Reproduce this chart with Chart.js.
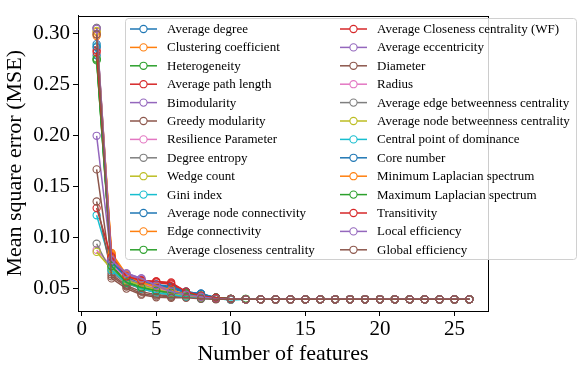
<!DOCTYPE html>
<html>
<head>
<meta charset="utf-8">
<script src="https://cdn.jsdelivr.net/npm/chart.js@4.4.1/dist/chart.umd.min.js"></script>
<style>
html,body{margin:0;padding:0;background:#fff;}
#wrap{width:582px;height:371px;position:relative;}
</style>
</head>
<body>
<div id="wrap"><canvas id="c" width="582" height="371"></canvas></div>
<script>
const features = [1,2,3,4,5,6,7,8,9,10,11,12,13,14,15,16,17,18,19,20,21,22,23,24,25,26];
const xTicks = [0,5,10,15,20,25];
const yTicks = [0.05,0.10,0.15,0.20,0.25,0.30];

const seriesNames = ["Average degree","Clustering coefficient","Heterogeneity","Average path length","Bimodularity","Greedy modularity","Resilience Parameter","Degree entropy","Wedge count","Gini index","Average node connectivity","Edge connectivity","Average closeness centrality","Average Closeness centrality (WF)","Average eccentricity","Diameter","Radius","Average edge betweenness centrality","Average node betweenness centrality","Central point of dominance","Core number","Minimum Laplacian spectrum","Maximum Laplacian spectrum","Transitivity","Local efficiency","Global efficiency"];

const averageDegree = [0.290,0.075,0.060,0.055,0.052,0.050,0.046,0.045,0.041,0.0395,0.0395,0.0395,0.0395,0.0395,0.0395,0.0395,0.0395,0.0395,0.0395,0.0395,0.0395,0.0395,0.0395,0.0395,0.0395,0.0395];
const clusteringCoefficient = [0.300,0.084,0.062,0.056,0.050,0.047,0.043,0.041,0.040,0.0395,0.0395,0.0395,0.0395,0.0395,0.0395,0.0395,0.0395,0.0395,0.0395,0.0395,0.0395,0.0395,0.0395,0.0395,0.0395,0.0395];
const heterogeneity = [0.274,0.070,0.056,0.050,0.047,0.045,0.044,0.042,0.041,0.040,0.0395,0.0395,0.0395,0.0395,0.0395,0.0395,0.0395,0.0395,0.0395,0.0395,0.0395,0.0395,0.0395,0.0395,0.0395,0.0395];
const averagePathLength = [0.284,0.082,0.063,0.058,0.056,0.054,0.046,0.042,0.041,0.040,0.0395,0.0395,0.0395,0.0395,0.0395,0.0395,0.0395,0.0395,0.0395,0.0395,0.0395,0.0395,0.0395,0.0395,0.0395,0.0395];
const bimodularity = [0.200,0.078,0.065,0.060,0.052,0.046,0.043,0.041,0.040,0.0395,0.0395,0.0395,0.0395,0.0395,0.0395,0.0395,0.0395,0.0395,0.0395,0.0395,0.0395,0.0395,0.0395,0.0395,0.0395,0.0395];
const greedyModularity = [0.167,0.062,0.052,0.045,0.043,0.042,0.042,0.041,0.040,0.0395,0.0395,0.0395,0.0395,0.0395,0.0395,0.0395,0.0395,0.0395,0.0395,0.0395,0.0395,0.0395,0.0395,0.0395,0.0395,0.0395];
const resilienceParameter = [0.088,0.072,0.058,0.053,0.048,0.045,0.043,0.041,0.040,0.0395,0.0395,0.0395,0.0395,0.0395,0.0395,0.0395,0.0395,0.0395,0.0395,0.0395,0.0395,0.0395,0.0395,0.0395,0.0395,0.0395];
const degreeEntropy = [0.094,0.066,0.055,0.050,0.046,0.044,0.042,0.041,0.040,0.0395,0.0395,0.0395,0.0395,0.0395,0.0395,0.0395,0.0395,0.0395,0.0395,0.0395,0.0395,0.0395,0.0395,0.0395,0.0395,0.0395];
const wedgeCount = [0.086,0.069,0.057,0.051,0.047,0.044,0.042,0.041,0.040,0.0395,0.0395,0.0395,0.0395,0.0395,0.0395,0.0395,0.0395,0.0395,0.0395,0.0395,0.0395,0.0395,0.0395,0.0395,0.0395,0.0395];
const giniIndex = [0.122,0.071,0.058,0.052,0.048,0.045,0.043,0.041,0.040,0.039,0.0395,0.0395,0.0395,0.0395,0.0395,0.0395,0.0395,0.0395,0.0395,0.0395,0.0395,0.0395,0.0395,0.0395,0.0395,0.0395];
const averageNodeConnectivity = [0.279,0.077,0.061,0.057,0.053,0.051,0.047,0.045,0.041,0.040,0.0395,0.0395,0.0395,0.0395,0.0395,0.0395,0.0395,0.0395,0.0395,0.0395,0.0395,0.0395,0.0395,0.0395,0.0395,0.0395];
const edgeConnectivity = [0.302,0.085,0.064,0.057,0.051,0.048,0.044,0.042,0.040,0.0395,0.0395,0.0395,0.0395,0.0395,0.0395,0.0395,0.0395,0.0395,0.0395,0.0395,0.0395,0.0395,0.0395,0.0395,0.0395,0.0395];
const averageClosenessCentrality = [0.276,0.073,0.057,0.051,0.048,0.046,0.045,0.043,0.041,0.040,0.040,0.0395,0.0395,0.0395,0.0395,0.0395,0.0395,0.0395,0.0395,0.0395,0.0395,0.0395,0.0395,0.0395,0.0395,0.0395];
const averageClosenessWF = [0.129,0.080,0.062,0.058,0.057,0.055,0.047,0.043,0.041,0.040,0.0395,0.0395,0.0395,0.0395,0.0395,0.0395,0.0395,0.0395,0.0395,0.0395,0.0395,0.0395,0.0395,0.0395,0.0395,0.0395];
const averageEccentricity = [0.306,0.079,0.064,0.059,0.054,0.048,0.044,0.042,0.040,0.0395,0.0395,0.0395,0.0395,0.0395,0.0395,0.0395,0.0395,0.0395,0.0395,0.0395,0.0395,0.0395,0.0395,0.0395,0.0395,0.0395];
const diameter = [0.1355,0.064,0.053,0.047,0.044,0.043,0.042,0.041,0.040,0.0395,0.0395,0.0395,0.0395,0.0395,0.0395,0.0395,0.0395,0.0395,0.0395,0.0395,0.0395,0.0395,0.0395,0.0395,0.0395,0.0395];
const radius = [0.305,0.074,0.060,0.055,0.050,0.046,0.043,0.041,0.040,0.0395,0.0395,0.0395,0.0395,0.0395,0.0395,0.0395,0.0395,0.0395,0.0395,0.0395,0.0395,0.0395,0.0395,0.0395,0.0395,0.0395];
const averageEdgeBetweenness = [0.306,0.068,0.059,0.054,0.049,0.045,0.043,0.041,0.040,0.0395,0.0395,0.0395,0.0395,0.0395,0.0395,0.0395,0.0395,0.0395,0.0395,0.0395,0.0395,0.0395,0.0395,0.0395,0.0395,0.0395];
const averageNodeBetweenness = [0.303,0.070,0.058,0.053,0.049,0.046,0.043,0.041,0.040,0.0395,0.0395,0.0395,0.0395,0.0395,0.0395,0.0395,0.0395,0.0395,0.0395,0.0395,0.0395,0.0395,0.0395,0.0395,0.0395,0.0395];
const centralPointOfDominance = [0.288,0.068,0.056,0.050,0.046,0.044,0.042,0.040,0.040,0.039,0.0395,0.0395,0.0395,0.0395,0.0395,0.0395,0.0395,0.0395,0.0395,0.0395,0.0395,0.0395,0.0395,0.0395,0.0395,0.0395];
const coreNumber = [0.287,0.076,0.061,0.056,0.054,0.052,0.047,0.045,0.041,0.040,0.0395,0.0395,0.0395,0.0395,0.0395,0.0395,0.0395,0.0395,0.0395,0.0395,0.0395,0.0395,0.0395,0.0395,0.0395,0.0395];
const minLaplacianSpectrum = [0.298,0.083,0.063,0.056,0.052,0.049,0.044,0.042,0.040,0.0395,0.0395,0.0395,0.0395,0.0395,0.0395,0.0395,0.0395,0.0395,0.0395,0.0395,0.0395,0.0395,0.0395,0.0395,0.0395,0.0395];
const maxLaplacianSpectrum = [0.275,0.072,0.056,0.051,0.048,0.046,0.045,0.043,0.041,0.040,0.040,0.0395,0.0395,0.0395,0.0395,0.0395,0.0395,0.0395,0.0395,0.0395,0.0395,0.0395,0.0395,0.0395,0.0395,0.0395];
const transitivity = [0.282,0.081,0.062,0.058,0.057,0.056,0.047,0.043,0.041,0.040,0.0395,0.0395,0.0395,0.0395,0.0395,0.0395,0.0395,0.0395,0.0395,0.0395,0.0395,0.0395,0.0395,0.0395,0.0395,0.0395];
const localEfficiency = [0.305,0.078,0.065,0.060,0.053,0.047,0.044,0.042,0.040,0.0395,0.0395,0.0395,0.0395,0.0395,0.0395,0.0395,0.0395,0.0395,0.0395,0.0395,0.0395,0.0395,0.0395,0.0395,0.0395,0.0395];
const globalEfficiency = [0.2995,0.060,0.050,0.044,0.0415,0.041,0.041,0.040,0.0395,0.0395,0.0395,0.0395,0.0395,0.0395,0.0395,0.0395,0.0395,0.0395,0.0395,0.0395,0.0395,0.0395,0.0395,0.0395,0.0395,0.0395];

const seriesValues = [averageDegree,clusteringCoefficient,heterogeneity,averagePathLength,bimodularity,greedyModularity,resilienceParameter,degreeEntropy,wedgeCount,giniIndex,averageNodeConnectivity,edgeConnectivity,averageClosenessCentrality,averageClosenessWF,averageEccentricity,diameter,radius,averageEdgeBetweenness,averageNodeBetweenness,centralPointOfDominance,coreNumber,minLaplacianSpectrum,maxLaplacianSpectrum,transitivity,localEfficiency,globalEfficiency];

const palette = ["#1f77b4","#ff7f0e","#2ca02c","#d62728","#9467bd","#8c564b","#e377c2","#7f7f7f","#bcbd22","#17becf"];
const N = seriesNames.length;

const datasets = seriesNames.map((name, i) => ({
  label: name,
  data: features.map((f, j) => ({x: f, y: seriesValues[i][j]})),
  borderColor: palette[i % 10],
  backgroundColor: 'rgba(0,0,0,0)',
  pointBackgroundColor: 'rgba(0,0,0,0)',
  pointBorderColor: palette[i % 10],
  pointRadius: 3.6,
  pointBorderWidth: 1.1,
  borderWidth: 1.5,
  tension: 0,
  order: N - i
}));

const serif = "'Liberation Serif','Times New Roman',serif";

const framePlugin = {
  id: 'frame',
  afterDatasetsDraw(chart) {
    const a = chart.chartArea, ctx = chart.ctx;
    ctx.save();
    ctx.strokeStyle = '#000';
    ctx.lineWidth = 1;
    ctx.strokeRect(Math.round(a.left) + 0.5, Math.round(a.top) + 0.5, Math.round(a.right - a.left), Math.round(a.bottom - a.top));
    ctx.restore();
  }
};

const legendPlugin = {
  id: 'mplLegend',
  afterDraw(chart) {
    const ctx = chart.ctx;
    const bx = 125, by = 18, bw = 451, bh = 241;
    ctx.save();
    ctx.fillStyle = 'rgba(255,255,255,0.8)';
    ctx.strokeStyle = '#d0d0d0';
    ctx.lineWidth = 1;
    const r = 3;
    ctx.beginPath();
    ctx.moveTo(bx + r, by + 0.5);
    ctx.arcTo(bx + bw + 0.5, by + 0.5, bx + bw + 0.5, by + bh + 0.5, r);
    ctx.arcTo(bx + bw + 0.5, by + bh + 0.5, bx + 0.5, by + bh + 0.5, r);
    ctx.arcTo(bx + 0.5, by + bh + 0.5, bx + 0.5, by + 0.5, r);
    ctx.arcTo(bx + 0.5, by + 0.5, bx + bw + 0.5, by + 0.5, r);
    ctx.closePath();
    ctx.fill();
    ctx.stroke();
    ctx.font = "13px " + serif;
    ctx.textBaseline = 'middle';
    ctx.textAlign = 'left';
    const rows = 13, y0 = 29, dy = 18.4;
    const cols = [{lx: 130, tx: 167}, {lx: 340, tx: 377}];
    chart.data.datasets.forEach((ds, i) => {
      const col = cols[Math.floor(i / rows)];
      const y = y0 + (i % rows) * dy;
      ctx.strokeStyle = ds.borderColor;
      ctx.lineWidth = 1.5;
      ctx.beginPath();
      ctx.moveTo(col.lx, y);
      ctx.lineTo(col.lx + 27, y);
      ctx.stroke();
      ctx.fillStyle = '#fff';
      ctx.lineWidth = 1.1;
      ctx.beginPath();
      ctx.arc(col.lx + 13.5, y, 3.6, 0, Math.PI * 2);
      ctx.fill();
      ctx.stroke();
      ctx.fillStyle = '#000';
      ctx.fillText(ds.label, col.tx, y + 0.5);
    });
    ctx.restore();
  }
};

new Chart(document.getElementById('c'), {
  type: 'line',
  data: { datasets },
  options: {
    responsive: false,
    animation: false,
    events: [],
    layout: { padding: { top: 6, right: 94, left: 0, bottom: 0 } },
    plugins: { legend: { display: false }, tooltip: { enabled: false } },
    scales: {
      x: {
        type: 'linear',
        min: -0.25, max: 27.25,
        afterBuildTicks: s => { s.ticks = xTicks.map(v => ({value: v})); },
        afterFit: s => { s.height = 60; },
        grid: { drawOnChartArea: false, drawTicks: true, tickLength: 5, color: '#000' },
        border: { display: true, color: '#000' },
        ticks: { color: '#000', font: { family: serif, size: 21 }, padding: 1, maxRotation: 0,
                 callback: v => String(v) },
        title: { display: true, text: 'Number of features', color: '#000',
                 font: { family: serif, size: 22 }, padding: { top: 0, bottom: 4 } }
      },
      y: {
        type: 'linear',
        min: 0.028, max: 0.318,
        afterBuildTicks: s => { s.ticks = yTicks.map(v => ({value: v})); },
        afterFit: s => { s.width = 78; },
        grid: { drawOnChartArea: false, drawTicks: true, tickLength: 5, color: '#000' },
        border: { display: true, color: '#000' },
        ticks: { color: '#000', font: { family: serif, size: 21 }, padding: 3,
                 callback: v => v.toFixed(2) },
        title: { display: true, text: 'Mean square error (MSE)', color: '#000',
                 font: { family: serif, size: 22 }, padding: { top: 2, bottom: 0 } }
      }
    }
  },
  plugins: [framePlugin, legendPlugin]
});
</script>
</body>
</html>
